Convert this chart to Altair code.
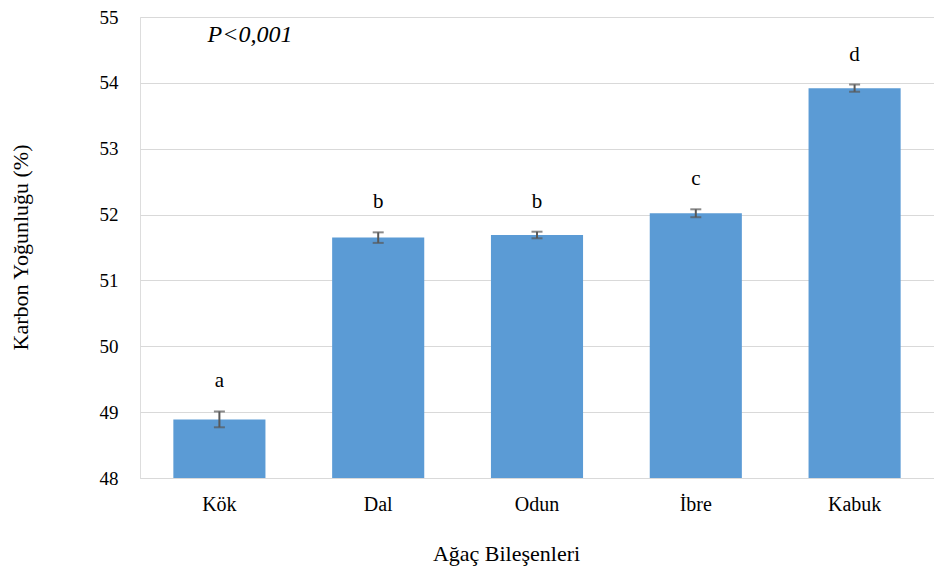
import altair as alt
import pandas as pd

categories = ["Kök", "Dal", "Odun", "İbre", "Kabuk"]
values = [48.89, 51.65, 51.69, 52.02, 53.92]
errors = [0.12, 0.08, 0.05, 0.06, 0.055]
letters = ["a", "b", "b", "c", "d"]
y_ticks = [48, 49, 50, 51, 52, 53, 54, 55]

df = pd.DataFrame({
    "cat": categories,
    "val": values,
    "lo": [v - e for v, e in zip(values, errors)],
    "hi": [v + e for v, e in zip(values, errors)],
    "letter": letters,
})

FONT = "Liberation Serif, Times New Roman, serif"

x_enc = alt.X(
    "cat:N", sort=categories,
    scale=alt.Scale(paddingInner=0.42, paddingOuter=0.21),
    axis=alt.Axis(title="Ağaç Bileşenleri", labelAngle=0, ticks=False, domain=True,
                  domainColor="#d9d9d9", labelPadding=16, titlePadding=29,
                  titleX=366, titleAnchor="start", titleAlign="center",
                  labelFontSize=20, titleFontSize=22, labelFont=FONT, titleFont=FONT,
                  labelColor="#000", titleColor="#000", titleFontWeight="normal"),
)
y_scale = alt.Scale(domain=[48, 55], nice=False, zero=False)

base = alt.Chart(df)

bars = base.mark_bar(color="#5b9bd5").encode(
    x=x_enc,
    y=alt.Y("val:Q", scale=y_scale,
            axis=alt.Axis(title="Karbon Yoğunluğu (%)", values=y_ticks, format="d", ticks=False,
                          domain=False, grid=True, gridColor="#d9d9d9", gridWidth=1,
                          labelPadding=22, titleX=-120, titleY=230, titleBaseline="middle",
                          titleAlign="center", titleAngle=270,
                          labelFontSize=19, titleFontSize=22,
                          labelFont=FONT, titleFont=FONT, labelColor="#000", titleColor="#000",
                          titleFontWeight="normal")),
    y2=alt.datum(48),
)

err_rule = base.mark_rule(color="#595959", strokeWidth=2).encode(
    x=alt.X("cat:N", sort=categories), y=alt.Y("lo:Q", scale=y_scale), y2="hi:Q"
)
cap_lo = base.mark_tick(color="#595959", size=11, thickness=2).encode(
    x=alt.X("cat:N", sort=categories), y=alt.Y("lo:Q", scale=y_scale)
)
cap_hi = base.mark_tick(color="#595959", size=11, thickness=2).encode(
    x=alt.X("cat:N", sort=categories), y=alt.Y("hi:Q", scale=y_scale)
)
labels = base.mark_text(font=FONT, fontSize=21, color="#000", dy=-30, baseline="middle").encode(
    x=alt.X("cat:N", sort=categories), y=alt.Y("hi:Q", scale=y_scale), text="letter:N"
)
ptext = alt.Chart(pd.DataFrame({"t": ["P<0,001"]})).mark_text(
    font=FONT, fontSize=24, fontStyle="italic", color="#000", align="center", baseline="middle"
).encode(x=alt.value(110), y=alt.value(18), text="t:N")

chart = alt.layer(bars, err_rule, cap_lo, cap_hi, labels, ptext).properties(
    width=794, height=461,
    autosize=alt.AutoSizeParams(type="none"),
    padding={"left": 132, "top": 9, "right": 0, "bottom": 92},
).configure_view(stroke=None).configure(background="white")

chart.save("out.html", embed_options={"renderer": "svg", "actions": False})
